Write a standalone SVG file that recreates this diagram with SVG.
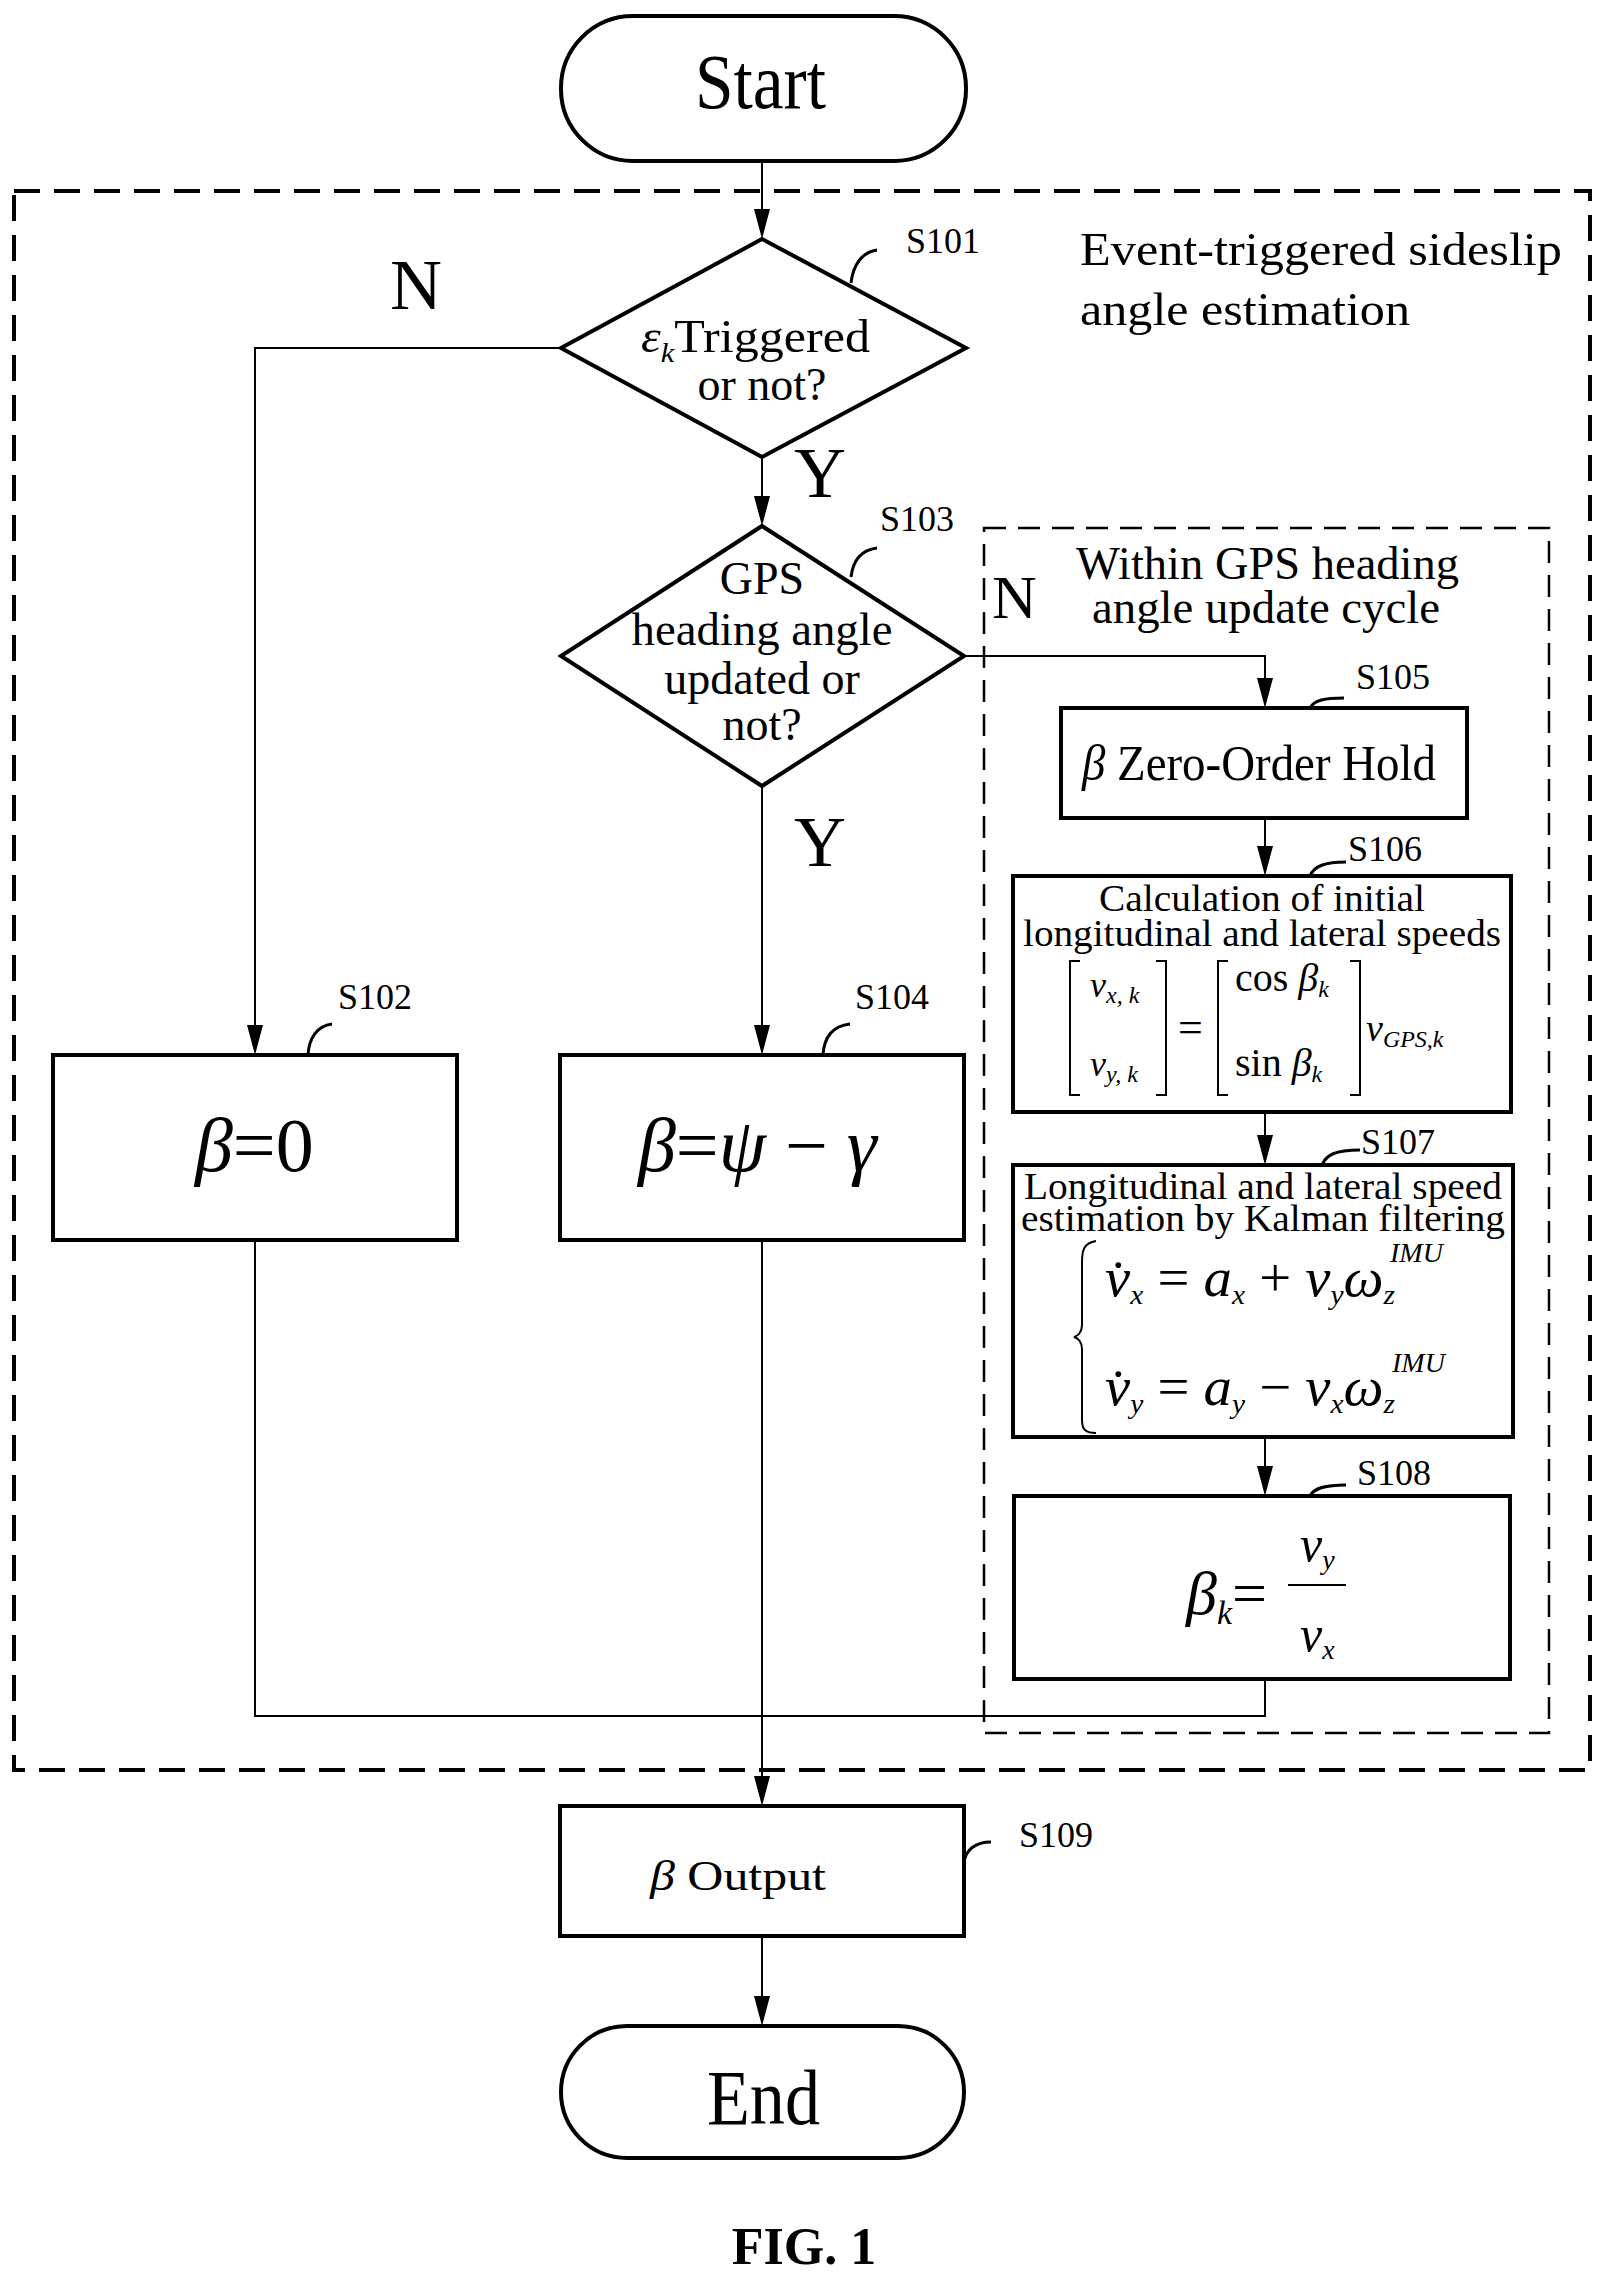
<svg xmlns="http://www.w3.org/2000/svg" width="1618" height="2284" viewBox="0 0 1618 2284" font-family="'Liberation Serif', Tinos, 'Times New Roman', serif">
<style>
text{font-family:'Liberation Serif',Tinos,'Times New Roman',serif;fill:#000}
.n{fill:#fff;stroke:#000;stroke-width:4}
.c{fill:none;stroke:#000;stroke-width:2}
.d{fill:none;stroke:#000;stroke-width:4;stroke-dasharray:26,14}
.d2{fill:none;stroke:#000;stroke-width:2.5;stroke-dasharray:22,12}
.lb{font-size:36px}
.cv{fill:none;stroke:#000;stroke-width:3}
.i{font-style:italic}
</style>
<rect class="d" x="14" y="191" width="1576" height="1579"/>
<rect class="d2" x="984" y="528" width="565" height="1205"/>
<text x="1080" y="265" font-size="46" textLength="482" lengthAdjust="spacingAndGlyphs">Event-triggered sideslip</text>
<text x="1080" y="325" font-size="46" textLength="330" lengthAdjust="spacingAndGlyphs">angle estimation</text>
<text x="1076" y="579" font-size="46" textLength="383" lengthAdjust="spacingAndGlyphs">Within GPS heading</text>
<text x="1092" y="623" font-size="46" textLength="348" lengthAdjust="spacingAndGlyphs">angle update cycle</text>

<g id="connectors">
<path class="c" d="M762,161 V209"/><path d="M754,209 H770 L762,239 Z"/>
<path class="c" d="M762,457 V496"/><path d="M754,496 H770 L762,526 Z"/>
<path class="c" d="M762,786 V1025"/><path d="M754,1025 H770 L762,1055 Z"/>
<path class="c" d="M561,348 H255 V1025"/><path d="M247,1025 H263 L255,1055 Z"/>
<path class="c" d="M964,656 H1265 V678"/><path d="M1257,678 H1273 L1265,708 Z"/>
<path class="c" d="M1265,818 V846"/><path d="M1257,846 H1273 L1265,876 Z"/>
<path class="c" d="M1265,1112 V1135"/><path d="M1257,1135 H1273 L1265,1165 Z"/>
<path class="c" d="M1265,1437 V1466"/><path d="M1257,1466 H1273 L1265,1496 Z"/>
<path class="c" d="M255,1240 V1716 H1265 V1679"/>
<path class="c" d="M762,1240 V1776"/><path d="M754,1776 H770 L762,1806 Z"/>
<path class="c" d="M762,1936 V1996"/><path d="M754,1996 H770 L762,2026 Z"/>
<text x="390" y="309" font-size="72">N</text>
<text x="794" y="497" font-size="72">Y</text>
<text x="794" y="866" font-size="72">Y</text>
<text x="992" y="618" font-size="62">N</text>
</g>

<g id="start">
<rect class="n" x="561" y="16" width="405" height="145" rx="72"/>
<text x="695" y="108" font-size="78" textLength="131" lengthAdjust="spacingAndGlyphs">Start</text>
</g>

<g id="s101">
<polygon class="n" points="762,239 966,348 762,457 561,348"/>
<text x="641" y="352" font-size="46" textLength="229" lengthAdjust="spacingAndGlyphs"><tspan class="i">ε</tspan><tspan class="i" font-size="28" dy="10">k</tspan><tspan dy="-10">Triggered</tspan></text>
<text x="762" y="400" font-size="46" text-anchor="middle">or not?</text>
<path class="cv" d="M851,283 C853,265 862,252 877,250"/>
<text x="906" y="253" class="lb">S101</text>
</g>

<g id="s103">
<polygon class="n" points="762,526 964,656 762,786 561,656"/>
<text x="762" y="594" font-size="46" text-anchor="middle">GPS</text>
<text x="762" y="645" font-size="46" text-anchor="middle" textLength="261" lengthAdjust="spacingAndGlyphs">heading angle</text>
<text x="762" y="694" font-size="46" text-anchor="middle">updated or</text>
<text x="762" y="740" font-size="46" text-anchor="middle">not?</text>
<path class="cv" d="M851,577 C853,560 862,550 877,548"/>
<text x="880" y="531" class="lb">S103</text>
</g>

<g id="s102">
<rect class="n" x="53" y="1055" width="404" height="185"/>
<text x="195" y="1171" font-size="76"><tspan class="i">β</tspan>=0</text>
<path class="cv" d="M308,1055 C309,1038 317,1026 332,1024"/>
<text x="338" y="1009" class="lb">S102</text>
</g>

<g id="s104">
<rect class="n" x="560" y="1055" width="404" height="185"/>
<text x="638" y="1171" font-size="76"><tspan class="i">β</tspan>=<tspan class="i">ψ</tspan> − <tspan class="i">γ</tspan></text>
<path class="cv" d="M823,1055 C824,1038 832,1026 850,1024"/>
<text x="855" y="1009" class="lb">S104</text>
</g>

<g id="s105">
<rect class="n" x="1061" y="708" width="406" height="110"/>
<text x="1082" y="780" font-size="50" textLength="354" lengthAdjust="spacingAndGlyphs"><tspan class="i">β</tspan> Zero-Order Hold</text>
<path class="cv" d="M1310,708 C1314,700 1325,698 1344,698"/>
<text x="1356" y="689" class="lb">S105</text>
</g>

<g id="s106">
<rect class="n" x="1013" y="876" width="498" height="236"/>
<text x="1262" y="911" font-size="38" text-anchor="middle" textLength="326" lengthAdjust="spacingAndGlyphs">Calculation of initial</text>
<text x="1262" y="946" font-size="38" text-anchor="middle" textLength="478" lengthAdjust="spacingAndGlyphs">longitudinal and lateral speeds</text>
<path class="c" d="M1080,961 H1070 V1095 H1080 M1156,961 H1166 V1095 H1156 M1228,961 H1218 V1095 H1228 M1350,961 H1360 V1095 H1350"/>
<text x="1090" y="997" font-size="36" class="i">v<tspan font-size="24" dy="6">x, k</tspan></text>
<text x="1090" y="1076" font-size="36" class="i">v<tspan font-size="24" dy="6">y, k</tspan></text>
<text x="1178" y="1042" font-size="44">=</text>
<text x="1235" y="991" font-size="40">cos <tspan class="i">β</tspan><tspan class="i" font-size="24" dy="6">k</tspan></text>
<text x="1235" y="1076" font-size="40">sin <tspan class="i">β</tspan><tspan class="i" font-size="24" dy="6">k</tspan></text>
<text x="1366" y="1041" font-size="38" class="i">v<tspan font-size="24" dy="6">GPS,k</tspan></text>
<path class="cv" d="M1310,876 C1314,866 1325,862 1346,862"/>
<text x="1348" y="861" class="lb">S106</text>
</g>

<g id="s107">
<rect class="n" x="1013" y="1165" width="500" height="272"/>
<text x="1263" y="1199" font-size="38" text-anchor="middle" textLength="478" lengthAdjust="spacingAndGlyphs">Longitudinal and lateral speed</text>
<text x="1263" y="1231" font-size="38" text-anchor="middle" textLength="484" lengthAdjust="spacingAndGlyphs">estimation by Kalman filtering</text>
<path class="c" d="M1096,1241 C1084,1243 1082,1250 1082,1262 V1325 C1082,1332 1078,1336 1074,1337 C1078,1338 1082,1342 1082,1349 V1420 C1082,1430 1086,1433 1096,1433"/>
<text x="1105" y="1296" font-size="54" class="i" textLength="290" lengthAdjust="spacingAndGlyphs">v̇<tspan font-size="28" dy="8">x</tspan><tspan dy="-8" font-style="normal"> = </tspan>a<tspan font-size="28" dy="8">x</tspan><tspan dy="-8" font-style="normal"> + </tspan>v<tspan font-size="28" dy="8">y</tspan><tspan dy="-8">ω</tspan><tspan font-size="28" dy="8">z</tspan></text>
<text x="1390" y="1262" font-size="28" class="i">IMU</text>
<text x="1105" y="1405" font-size="54" class="i" textLength="290" lengthAdjust="spacingAndGlyphs">v̇<tspan font-size="28" dy="8">y</tspan><tspan dy="-8" font-style="normal"> = </tspan>a<tspan font-size="28" dy="8">y</tspan><tspan dy="-8" font-style="normal"> − </tspan>v<tspan font-size="28" dy="8">x</tspan><tspan dy="-8">ω</tspan><tspan font-size="28" dy="8">z</tspan></text>
<text x="1392" y="1372" font-size="28" class="i">IMU</text>
<path class="cv" d="M1322,1165 C1326,1155 1335,1150 1360,1150"/>
<text x="1361" y="1154" class="lb">S107</text>
</g>

<g id="s108">
<rect class="n" x="1014" y="1496" width="496" height="183"/>
<text x="1186" y="1614" font-size="62" class="i">β<tspan font-size="34" dy="10">k</tspan><tspan dy="-10" font-style="normal">=</tspan></text>
<path class="c" d="M1288,1585 H1346"/>
<text x="1300" y="1561" font-size="50" class="i">v<tspan font-size="28" dy="8">y</tspan></text>
<text x="1300" y="1651" font-size="50" class="i">v<tspan font-size="28" dy="8">x</tspan></text>
<path class="cv" d="M1310,1496 C1314,1488 1325,1485 1346,1485"/>
<text x="1357" y="1485" class="lb">S108</text>
</g>

<g id="s109">
<rect class="n" x="560" y="1806" width="404" height="130"/>
<text x="650" y="1890" font-size="42" textLength="176" lengthAdjust="spacingAndGlyphs"><tspan class="i">β</tspan> Output</text>
<path class="cv" d="M964,1862 C966,1850 975,1842 991,1842"/>
<text x="1019" y="1847" class="lb">S109</text>
</g>

<g id="end">
<rect class="n" x="561" y="2026" width="403" height="132" rx="66"/>
<text x="707" y="2124" font-size="78" textLength="113" lengthAdjust="spacingAndGlyphs">End</text>
</g>

<text x="804" y="2264" font-size="52" font-weight="bold" text-anchor="middle">FIG. 1</text>
</svg>
